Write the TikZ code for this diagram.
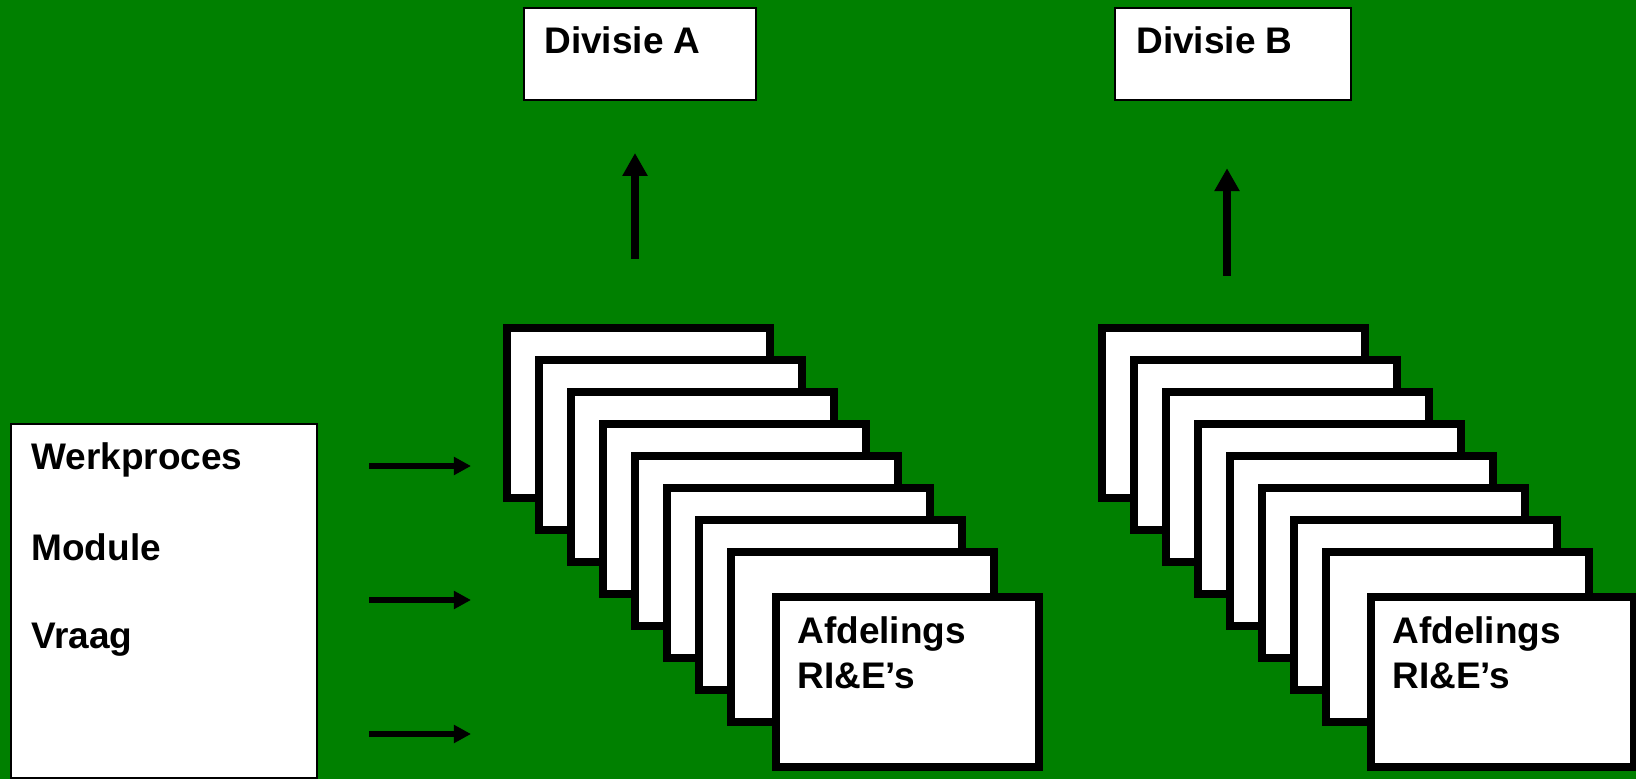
\documentclass[tikz,border=0pt]{standalone}
\usepackage{fontspec}
\setmainfont{Liberation Sans}
\usepackage{xcolor}
\usepackage{tikz}
\usetikzlibrary{arrows.meta}
\definecolor{bggreen}{RGB}{0,128,0}

\begin{document}
\begin{tikzpicture}[x=0.5pt,y=-0.5pt,
    card/.style={draw,fill=white,line width=4pt,minimum width=131.5pt,minimum height=85pt,inner sep=0pt},
    divbox/.style={draw,fill=white,line width=1pt,minimum height=46pt,inner sep=0pt},
    txt/.style={anchor=base west,inner sep=0pt,font=\fontsize{18.5}{22}\selectfont\bfseries},
    uparrow/.style={-{Triangle[width=12pt,length=11.5pt]},line width=4pt},
    inarrow/.style={-{Triangle[width=8.7pt,length=8.6pt]},line width=2.7pt}]
    \fill[bggreen] (0,0) rectangle (1636,779);
    \useasboundingbox (0,0) rectangle (1636,779);
    % left box
    \node[draw,fill=white,line width=1pt,minimum width=153pt,minimum height=177pt] (vb) at (164,601) {};
    \node[txt] (werk) at (31,470) {Werkproces};
    \node[txt] (mod) at (31,560) {Module};
    \node[txt] (vr) at (31,648) {Vraag};
    \coordinate (i1) at (369,466); \coordinate (o1) at (471,466);
    \coordinate (i2) at (369,600); \coordinate (o2) at (471,600);
    \coordinate (i3) at (369,734); \coordinate (o3) at (471,734);
    \draw[inarrow] (i1) -- (o1);
    \draw[inarrow] (i2) -- (o2);
    \draw[inarrow] (i3) -- (o3);
    % divisies
    \node[divbox,minimum width=116pt] (da) at (640,54) {};
    \node[txt] (datxt) at (544,54) {Divisie A};
    \node[divbox,minimum width=118pt] (db) at (1233,54) {};
    \node[txt] (dbtxt) at (1136,54) {Divisie B};
    % stack A
    \node[card] (a1) at (638.5,413) {};
    \node[card] (a2) at (670.5,445) {};
    \node[card] (a3) at (702.5,477) {};
    \node[card] (a4) at (734.5,509) {};
    \node[card] (a5) at (766.5,541) {};
    \node[card] (a6) at (798.5,573) {};
    \node[card] (a7) at (830.5,605) {};
    \node[card] (a8) at (862.5,637) {};
    \node[card] (a9) at (907.5,682) {};
    \node[txt] (afa) at (797,643) {Afdelings};
    \node[txt] (ria) at (797,688) {RI\&E’s};
    % stack B
    \node[card] (b1) at (1233.5,413) {};
    \node[card] (b2) at (1265.5,445) {};
    \node[card] (b3) at (1297.5,477) {};
    \node[card] (b4) at (1329.5,509) {};
    \node[card] (b5) at (1361.5,541) {};
    \node[card] (b6) at (1393.5,573) {};
    \node[card] (b7) at (1425.5,605) {};
    \node[card] (b8) at (1457.5,637) {};
    \node[card] (b9) at (1502.5,682) {};
    \node[txt] (afb) at (1392,643) {Afdelings};
    \node[txt] (rib) at (1392,688) {RI\&E’s};
    % arrows up
    \coordinate (ta) at (635,259);
    \coordinate (tb) at (1227,276);
    \draw[uparrow,shorten >=26pt] (ta) -- (ta |- da.south);
    \draw[uparrow,shorten >=33.6pt] (tb) -- (tb |- db.south);
\end{tikzpicture}
\end{document}
